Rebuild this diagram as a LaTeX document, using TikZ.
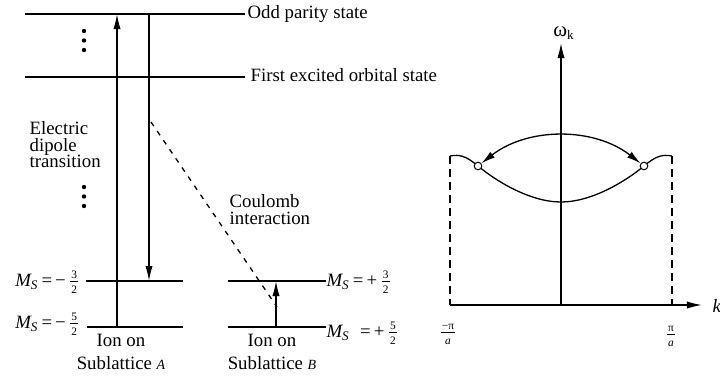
\documentclass[tikz,border=0pt]{standalone}
\usepackage{fontspec}
\setmainfont{Liberation Serif}
\usetikzlibrary{arrows.meta}
\newcommand{\smfrac}[2]{\ensuremath{\vcenter{\offinterlineskip\fontsize{5.7}{6}\selectfont
    \halign{\hfil##\hfil\cr
        \vrule height 4.0pt depth 0.3pt width 0pt\kern0.6pt#1\kern0.6pt\cr
        \noalign{\kern1.2pt\hrule\kern1.4pt}
        \vrule height 4.0pt depth 0.3pt width 0pt\kern0.6pt#2\kern0.6pt\cr}}}}
\newcommand{\mslabel}[3]{\textit{M}\kern-0.5pt\textsubscript{\textit{S}}#1=\,#2\kern2.2pt\smfrac{#3}{2}}
\tikzset{
  uptip/.style={-{Latex[length=7.5pt,width=3.6pt]}},
  bothtip/.style={{Latex[length=7pt,width=3.6pt]}-{Latex[length=7pt,width=3.6pt]}},
  lbl/.style={inner sep=0pt, font=\fontsize{9.4}{8.3}\selectfont},
  ionlbl/.style={inner sep=0pt, align=center, font=\fontsize{9.4}{11.5}\selectfont},
  hole/.style={circle, draw, fill=white, inner sep=0pt, minimum size=3.8pt, line width=0.5pt},
}
\begin{document}
\begin{tikzpicture}[x=0.5pt,y=-0.5pt,line width=0.65pt]
    \useasboundingbox (0,0) rectangle (720,376);
    % levels of the ion on sublattice A
    \coordinate (oddL) at (25,14);
    \coordinate (excL) at (25,77);
    \node[lbl, anchor=mid west] (odd) at (247,14) {Odd parity state};
    \node[lbl, anchor=mid west] (exc) at (250,77) {First excited orbital state};
    \draw[shorten >=1pt] (oddL) -- (oddL -| odd.mid west);
    \draw[shorten >=2.5pt] (excL) -- (excL -| exc.mid west);
    \coordinate (a3L) at (86,281);
    \coordinate (a3R) at (183,281);
    \coordinate (a5L) at (87,327);
    \coordinate (a5R) at (183,327);
    \draw (a3L) -- (a3R);
    \draw (a5L) -- (a5R);
    \node[lbl, anchor=east] (a3) at (79,282) {\mslabel{\,}{−}{3}};
    \node[lbl, anchor=east] (a5) at (79,324) {\mslabel{\,}{−}{5}};
    \foreach \y in {31,40.5,50,187,196.5,206} {
        \fill (84,\y) circle (1.1pt);
    }
    % transitions
    \coordinate (upA0) at (117,327);
    \coordinate (upA1) at (117,14);
    \coordinate (dnA0) at (149,14);
    \coordinate (dnA1) at (149,281);
    \draw[uptip] (upA0) -- (upA1);
    \draw[uptip] (dnA0) -- (dnA1);
    \node[lbl, align=left, anchor=north west] (edt) at (29,121) {Electric\\dipole\\transition};
    % levels of the ion on sublattice B
    \coordinate (b3L) at (228,281);
    \coordinate (b5L) at (228,327);
    \node[lbl, anchor=west] (b3) at (326,282) {\mslabel{\,}{+}{3}};
    \node[lbl, anchor=west] (b5) at (326,333) {\mslabel{\;\;}{+}{5}};
    \draw (b3L) -- (b3L -| b3.west);
    \draw (b5L) -- (b5L -| b5.west);
    \coordinate (upB0) at (276,327);
    \coordinate (upB1) at (276,281);
    \draw[uptip] (upB0) -- (upB1);
    \coordinate (cA) at (151,122);
    \coordinate (cB) at (277,307);
    \draw[dash pattern=on 2.5pt off 3pt] (cA) -- (cB);
    \node[lbl, align=left, anchor=north west] (coul) at (229,194) {Coulomb\\interaction};
    \node[ionlbl, anchor=north] (ionA) at (121,334) {Ion on\\Sublattice {\scriptsize\itshape A}};
    \node[ionlbl, anchor=north] (ionB) at (272,334) {Ion on\\Sublattice {\scriptsize\itshape B}};
    % dispersion
    \coordinate (O) at (561,305);
    \coordinate (wtop) at (561,43);
    \coordinate (kL) at (450,305);
    \coordinate (kR) at (702,305);
    \draw[uptip] (O) -- (wtop);
    \draw[uptip] (kL) -- (kR);
    \node[lbl, anchor=south] (wlab) at (564,40) {{\fontsize{10.5}{10}\selectfont ω}\textsubscript{k}};
    \node[lbl, anchor=west] (klab) at (712,306) {\textit{k}};
    \coordinate (bzL) at (450,156);
    \coordinate (bzR) at (672,156);
    \draw[dash pattern=on 4pt off 2.5pt] (bzL) -- (bzL |- O);
    \draw[dash pattern=on 4pt off 2.5pt] (bzR) -- (bzR |- O);
    \draw (bzL) .. controls (459,154.5) and (465,155) .. (478,166)
        .. controls (496,181) and (530,202) .. (561,202)
        .. controls (592,202) and (626,181) .. (644,166)
        .. controls (657,155) and (663,154.5) .. (bzR);
    \node[hole] (hl) at (478,166) {};
    \node[hole] (hr) at (644,166) {};
    \draw[bothtip] (hl) .. controls (528,127) and (594,127) .. (hr);
    \node[lbl] (kmin) at (448,333) {\smfrac{−π}{\itshape a}};
    \node[lbl] (kmax) at (671,335) {\smfrac{π}{\itshape a}};
\end{tikzpicture}
\end{document}
